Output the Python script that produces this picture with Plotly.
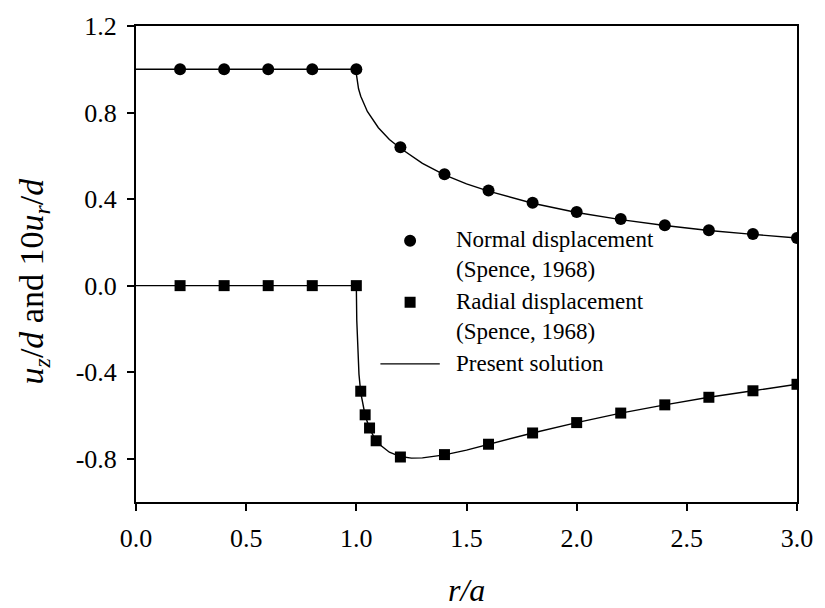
import plotly.graph_objects as go

# Spence (1968) reference points
normal_r = [0.2, 0.4, 0.6, 0.8, 1.0, 1.2, 1.4, 1.6, 1.8, 2.0, 2.2, 2.4, 2.6, 2.8, 3.0]
normal_u = [1.0, 1.0, 1.0, 1.0, 1.0, 0.64, 0.515, 0.44, 0.383, 0.34, 0.308, 0.279, 0.256, 0.239, 0.22]

radial_r = [0.2, 0.4, 0.6, 0.8, 1.0, 1.02, 1.04, 1.06, 1.09, 1.2, 1.4, 1.6, 1.8, 2.0, 2.2, 2.4, 2.6, 2.8, 3.0]
radial_u = [0.0, 0.0, 0.0, 0.0, 0.0, -0.488, -0.597, -0.658, -0.717, -0.792, -0.781, -0.733, -0.681, -0.633, -0.589, -0.551, -0.516, -0.486, -0.456]

# Present solution
sol_n_r = [0.0, 1.0, 1.001, 1.003, 1.01, 1.02, 1.05, 1.1, 1.15, 1.2, 1.3, 1.4, 1.5, 1.6, 1.8, 2.0, 2.2, 2.4, 2.6, 2.8, 3.0]
sol_n_u = [1.0, 1.0, 0.972, 0.951, 0.91, 0.875, 0.805, 0.73, 0.675, 0.635, 0.565, 0.512, 0.47, 0.437, 0.381, 0.338, 0.305, 0.278, 0.255, 0.237, 0.22]
sol_r_r = [0.0, 1.0, 1.002, 1.006, 1.012, 1.02, 1.03, 1.04, 1.06, 1.08, 1.1, 1.15, 1.2, 1.25, 1.3, 1.4, 1.5, 1.6, 1.8, 2.0, 2.2, 2.4, 2.6, 2.8, 3.0]
sol_r_u = [0.0, 0.0, -0.16, -0.3, -0.41, -0.495, -0.555, -0.6, -0.66, -0.7, -0.73, -0.77, -0.79, -0.797, -0.796, -0.782, -0.76, -0.734, -0.681, -0.633, -0.589, -0.551, -0.516, -0.486, -0.456]

x_ticks = [0.0, 0.5, 1.0, 1.5, 2.0, 2.5, 3.0]
y_ticks = [-0.8, -0.4, 0.0, 0.4, 0.8, 1.2]

legend_texts = [
    "Normal displacement<br>(Spence, 1968)",
    "Radial displacement<br>(Spence, 1968)",
    "Present solution",
]

FONT = "Liberation Serif, Times New Roman, serif"
W, H = 825, 608
L, R, T, B = 136, 21, 23, 106
PW, PH = W - L - R, H - T - B


def px(xp):
    return (xp - L) / PW


def py(yp):
    return (H - B - yp) / PH


fig = go.Figure()
fig.add_trace(go.Scatter(
    x=sol_n_r + [None] + sol_r_r, y=sol_n_u + [None] + sol_r_u,
    mode="lines", line=dict(color="black", width=1.4),
    name="Present solution", showlegend=False))
fig.add_trace(go.Scatter(
    x=normal_r, y=normal_u, mode="markers",
    marker=dict(symbol="circle", size=12, color="black"),
    name="Normal displacement (Spence, 1968)", showlegend=False))
fig.add_trace(go.Scatter(
    x=radial_r, y=radial_u, mode="markers",
    marker=dict(symbol="square", size=11, color="black"),
    name="Radial displacement (Spence, 1968)", showlegend=False))

# Legend (drawn by hand to match the reference placement)
sym_x = 413
text_x = 458
entry_y = [239, 301, 363]     # centre of first text line of each entry (px)
LEG_SIZE = 23
line_h = 1.3 * LEG_SIZE
shapes = []
annotations = []
for i, t in enumerate(legend_texts):
    y0 = entry_y[i] - LEG_SIZE * 0.62
    annotations.append(dict(
        xref="paper", yref="paper", x=px(text_x), y=py(y0),
        text=t, showarrow=False, xanchor="left", yanchor="top", align="left",
        borderpad=0,
        font=dict(family=FONT, size=LEG_SIZE, color="black")))
shapes.append(dict(type="circle", xref="paper", yref="paper", xsizemode="pixel", ysizemode="pixel",
                   xanchor=px(sym_x), yanchor=py(entry_y[0]), x0=-6, x1=6, y0=-6, y1=6,
                   fillcolor="black", line=dict(width=0)))
shapes.append(dict(type="rect", xref="paper", yref="paper", xsizemode="pixel", ysizemode="pixel",
                   xanchor=px(sym_x), yanchor=py(entry_y[1]), x0=-5.5, x1=5.5, y0=-5.5, y1=5.5,
                   fillcolor="black", line=dict(width=0)))
shapes.append(dict(type="line", xref="paper", yref="paper",
                   x0=px(383), x1=px(443), y0=py(entry_y[2]), y1=py(entry_y[2]),
                   line=dict(color="black", width=1.4)))

# Axis titles
annotations.append(dict(
    xref="paper", yref="paper", x=0.5, y=0, yshift=-(590 - (H - B)), xanchor="center", yanchor="middle",
    text="<i>r/a</i>", showarrow=False, font=dict(family=FONT, size=32, color="black")))
annotations.append(dict(
    xref="paper", yref="paper", x=0, y=py(280), xshift=-(L - 34), xanchor="center", yanchor="middle",
    textangle=-90, showarrow=False,
    text="<i>u</i><sub><i>z</i></sub>/<i>d</i> and 10<i>u</i><sub><i>r</i></sub>/<i>d</i>",
    font=dict(family=FONT, size=34, color="black")))

fig.update_layout(
    width=W, height=H,
    margin=dict(l=L, r=R, t=T, b=B),
    plot_bgcolor="white", paper_bgcolor="white",
    font=dict(family=FONT, color="black", size=26),
    showlegend=False,
    shapes=shapes, annotations=annotations,
)
fig.update_xaxes(
    range=[0, 3.0], tickvals=x_ticks, ticktext=[f"{v:.1f}" for v in x_ticks],
    showgrid=False, zeroline=False, showline=True, linecolor="black", linewidth=2,
    mirror=True, ticks="outside", ticklen=7, tickwidth=1.5, tickcolor="black",
    tickfont=dict(family=FONT, size=26), ticklabelstandoff=5,
)
fig.update_yaxes(
    range=[-1.0, 1.2], tickvals=y_ticks, ticktext=[f"{v:.1f}" for v in y_ticks],
    showgrid=False, zeroline=False, showline=True, linecolor="black", linewidth=2,
    mirror=True, ticks="outside", ticklen=7, tickwidth=1.5, tickcolor="black",
    tickfont=dict(family=FONT, size=26), ticklabelstandoff=5,
)

fig.write_html("out.html")
